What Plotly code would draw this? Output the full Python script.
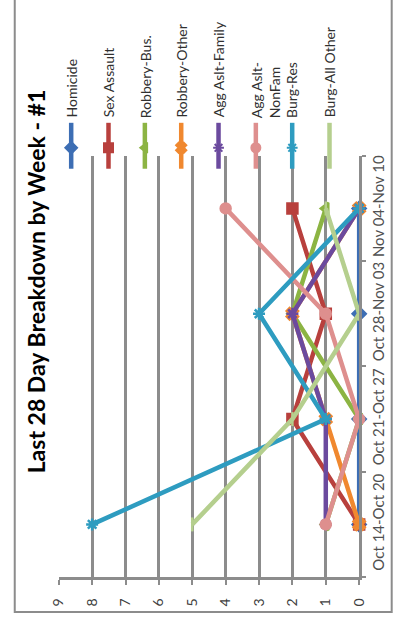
import plotly.graph_objs as go

W, H = 393, 622

# weekly buckets (bottom to top in the rotated chart)
weeks = ["Oct 14-Oct 20", "Oct 21-Oct 27", "Oct 28-Nov 03", "Nov 04-Nov 10"]

homicide = [0, 0, 0, 0]
sex_assault = [0, 2, 1, 2]
robbery_bus = [1, 0, 2, 1]
robbery_other = [0, 1, 2, 0]
agg_aslt_family = [1, 1, 2, 0]
agg_aslt_nonfam = [1, 0, 1, 4]
burg_res = [8, 1, 3, 0]
burg_all_other = [5, 2, 0, 1]

series_names = ["Homicide", "Sex Assault", "Robbery-Bus.", "Robbery-Other",
                "Agg Aslt-Family", "Agg Aslt-<br>NonFam", "Burg-Res", "Burg-All Other"]
series_values = [homicide, sex_assault, robbery_bus, robbery_other,
                 agg_aslt_family, agg_aslt_nonfam, burg_res, burg_all_other]
value_ticks = list(range(0, 10))

colors = ["#3D6EB4", "#B8403D", "#8CB443", "#F0882F",
          "#6B4A9E", "#DE8F8E", "#2E9CC0", "#B5CF8E"]
symbols = ["diamond", "square", "triangle-left", "x",
           "asterisk-open", "circle", "asterisk-open", "line-ns-open"]

FONT = "Lato"
GRID = "#8C8C8C"

# plot area in pixels (chart is drawn rotated 90 degrees)
L, R, T, B = 52, 366, 155, 577


def fx(px):
    return px / W


def fy(py):
    return 1 - py / H


fig = go.Figure()

for name, vals, col, sym in zip(series_names, series_values, colors, symbols):
    fig.add_trace(go.Scatter(
        x=vals, y=weeks, mode="lines+markers", name=name.replace("<br>", ""),
        line=dict(color=col, width=4.5),
        marker=dict(symbol=sym, size=10, color=col, line=dict(color=col, width=2.5)),
        cliponaxis=False, showlegend=False))

# hand-built rotated legend
leg_x = [65, 104, 142, 180, 219, 258, 296, 335]
shapes = []
annotations = []
for i, (name, col, sym) in enumerate(zip(series_names, colors, symbols)):
    x = leg_x[i]
    shapes.append(dict(type="line", xref="paper", yref="paper",
                       x0=fx(x), x1=fx(x), y0=fy(122), y1=fy(168),
                       line=dict(color=col, width=4.5)))
    fig.add_trace(go.Scatter(
        x=[x], y=[147], xaxis="x2", yaxis="y2", mode="markers",
        marker=dict(symbol=sym, size=9, color=col, line=dict(color=col, width=2)),
        cliponaxis=False, showlegend=False, hoverinfo="skip"))
    two_line = "<br>" in name
    annotations.append(dict(
        text=name, textangle=-90, xref="paper", yref="paper",
        x=fx(x + (10 if two_line else 0)), y=fy(119),
        xanchor="center", yanchor="bottom", align="left", showarrow=False,
        font=dict(family=FONT, size=14, color="#303030")))

annotations.append(dict(
    text="<b>Last 28 Day Breakdown by Week - #1</b>", textangle=-90,
    xref="paper", yref="paper", x=fx(28), y=fy(281),
    xanchor="center", yanchor="middle", showarrow=False,
    font=dict(family=FONT, size=23, color="#000000")))

# chart border
shapes.append(dict(type="rect", xref="paper", yref="paper",
                   x0=fx(6), x1=fx(400), y0=fy(612), y1=fy(-5),
                   line=dict(color=GRID, width=2)))

fig.update_layout(
    width=W, height=H,
    margin=dict(l=0, r=0, t=0, b=0),
    paper_bgcolor="white", plot_bgcolor="rgba(0,0,0,0)",
    font=dict(family=FONT, size=14, color="#404040"),
    shapes=shapes, annotations=annotations,
    xaxis=dict(domain=[fx(L), fx(R)], range=[9, 0], tickvals=value_ticks,
               showgrid=True, gridcolor=GRID, gridwidth=2.5, zeroline=False,
               showline=True, linecolor=GRID, linewidth=2.5,
               ticks="outside", ticklen=5, tickwidth=2, tickcolor=GRID,
               tickangle=-90, ticklabelstandoff=8, anchor="y",
               tickfont=dict(size=14, color="#404040")),
    yaxis=dict(domain=[fy(B), fy(T)], type="category", categoryarray=weeks,
               range=[-0.5, 3.5], side="right", anchor="x",
               showgrid=False, zeroline=False, showline=True,
               linecolor=GRID, linewidth=2.5, tickson="boundaries",
               ticks="outside", ticklen=4, tickwidth=2, tickcolor=GRID,
               tickangle=-90, ticklabelstandoff=4,
               tickfont=dict(size=15, color="#505050")),
    xaxis2=dict(domain=[0, 1], range=[0, W], visible=False, anchor="y2"),
    yaxis2=dict(domain=[0, 1], range=[H, 0], visible=False, anchor="x2"),
)

# page body margin would shift the chart by 8px
fig.write_html("out.html", config={"displayModeBar": False},
               post_script="document.body.style.margin='0';")
